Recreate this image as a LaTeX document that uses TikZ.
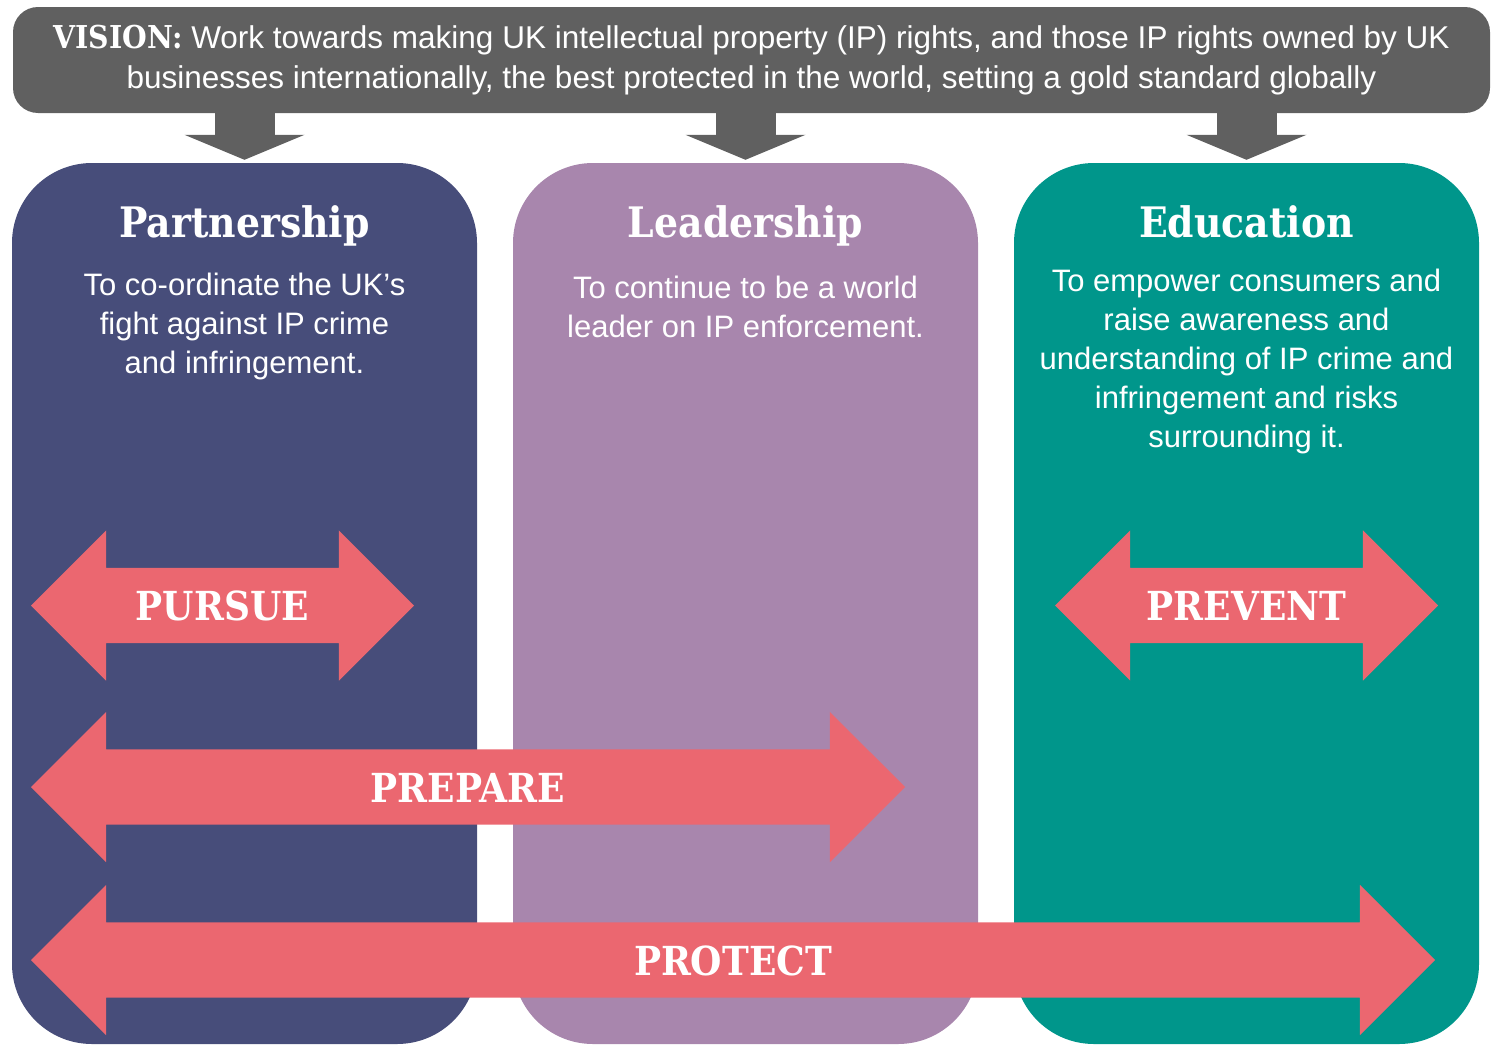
\documentclass[tikz,border=0pt]{standalone}
\usepackage{fontspec}
\setmainfont{Liberation Sans}
\newfontfamily\slabfont{DejaVu Serif}[FakeStretch=0.9]
\usetikzlibrary{positioning,shapes.arrows,arrows.meta}
\definecolor{visiongray}{HTML}{606060}
\definecolor{partblue}{HTML}{474D7A}
\definecolor{leadmauve}{HTML}{A886AD}
\definecolor{eduteal}{HTML}{00968B}
\definecolor{strandred}{HTML}{EB6770}
\begin{document}
\begin{tikzpicture}[x=1pt, y=-1pt,
    vision/.style={fill=visiongray, rounded corners=25pt, minimum width=1477pt, minimum height=106pt,
      inner sep=0pt, text=white, align=center, font=\fontsize{31.5}{40}\selectfont},
    column/.style={rounded corners=80pt, minimum width=465pt, minimum height=881pt, inner sep=0pt},
    heading/.style={text=white, anchor=base, inner sep=0pt, font=\slabfont\bfseries\fontsize{42}{48}\selectfont},
    aim/.style={text=white, align=center, inner sep=0pt, font=\fontsize{31}{39}\selectfont},
    strand/.style={double arrow, fill=strandred, text=white, double arrow head extend=37.5pt,
      minimum width=150pt, inner xsep=0pt, inner ysep=0pt, text height=52.5pt, text depth=22.5pt,
      font=\slabfont\bfseries\fontsize{40}{40}\selectfont},
    feed/.style={draw=visiongray, line width=60pt, -{Triangle[width=120pt, length=25pt, line width=0pt]}}]
  \useasboundingbox (0,0) rectangle (1496,1044);
  \node[vision] (vision) at (751.5,60) {{\slabfont\bfseries VISION:} Work towards making UK intellectual property (IP) rights, and those IP rights owned by UK\\
    businesses internationally, the best protected in the world, setting a gold standard globally};

  \node[column, fill=partblue] (part) at (244.5,603.5) {};
  \node[column, fill=leadmauve] (lead) at (745.5,603.5) {};
  \node[column, fill=eduteal] (edu) at (1246.5,603.5) {};

  \foreach \c in {part,lead,edu}
    \draw[feed] (vision.south -| \c.north) -- ([yshift=3pt]\c.north);

  \node[heading] (parthead) at ([yshift=-75pt]part.north) {Partnership};
  \node[heading] (leadhead) at ([yshift=-75pt]lead.north) {Leadership};
  \node[heading] (eduhead) at ([yshift=-75pt]edu.north) {Education};

  \node[aim, below=35pt of parthead.base] (partaim) {To co-ordinate the UK’s\\fight against IP crime\\and infringement.};
  \node[aim, below=38pt of leadhead.base] (leadaim) {To continue to be a world\\leader on IP enforcement.};
  \node[aim, below=31pt of eduhead.base] (eduaim) {To empower consumers and\\raise awareness and\\understanding of IP crime and\\infringement and risks\\surrounding it.};

  \node[strand, minimum height=383pt] (pursue) at (222.5,605.5) {PURSUE};
  \node[strand, minimum height=383pt] (prevent) at (1246.5,605.5) {PREVENT};
  \node[strand, minimum height=874pt] (prepare) at (468,787) {PREPARE};
  \node[strand, minimum height=1404pt] (protect) at (733,960) {PROTECT};
\end{tikzpicture}
\end{document}
